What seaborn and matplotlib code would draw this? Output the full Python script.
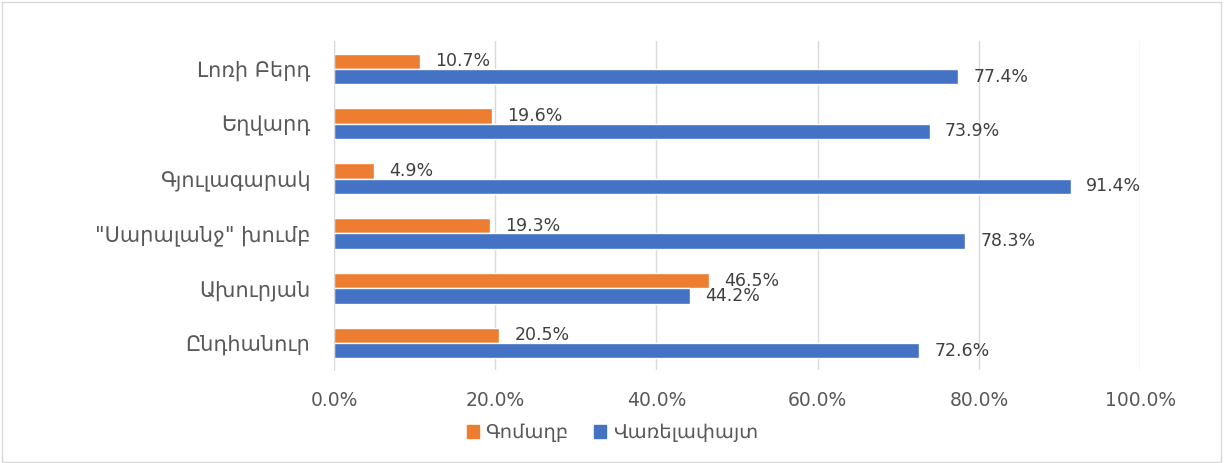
import pandas as pd
import seaborn as sns
import matplotlib.pyplot as plt
from matplotlib.patches import Rectangle
from matplotlib.transforms import offset_copy

categories = ["Լոռի Բերդ", "Եղվարդ", "Գյուլագարակ", "\"Սարալանջ\" խումբ", "Ախուրյան", "Ընդհանուր"]
manure = [10.7, 19.6, 4.9, 19.3, 46.5, 20.5]
firewood = [77.4, 73.9, 91.4, 78.3, 44.2, 72.6]
series = ["Գոմաղբ", "Վառելափայտ"]

df = pd.DataFrame({
    "cat": categories * 2,
    "val": manure + firewood,
    "series": [series[0]] * len(categories) + [series[1]] * len(categories),
})

sns.set_style("white")
plt.rcParams["font.family"] = ["DejaVu Sans"]

fig = plt.figure(figsize=(12.25, 4.63), dpi=100)
ax = fig.add_axes([0.2727, 0.1998, 0.658, 0.7106])

sns.barplot(data=df, y="cat", x="val", hue="series", orient="h",
            palette=["#ED7D31", "#4472C4"], width=0.56, ax=ax,
            saturation=1, legend=False)

# vertical nudge so the close Ախուրյան labels don't collide
for cont, dy in zip(ax.containers, [2, -3]):
    texts = ax.bar_label(cont, labels=[f"{v:.1f}%" for v in cont.datavalues],
                         padding=11, fontsize=12.5, color="#404040")
    for t in texts:
        t.set_transform(offset_copy(t.get_transform(), fig=fig, y=dy, units="points"))

ax.set_xlim(0, 100)
ax.set_xticks([0, 20, 40, 60, 80, 100])
ax.set_xticklabels([f"{t:.1f}%" for t in [0, 20, 40, 60, 80, 100]])
ax.grid(axis="x", color="#D9D9D9", linewidth=1)
ax.set_axisbelow(True)
for s in ["top", "right", "bottom"]:
    ax.spines[s].set_visible(False)
ax.spines["left"].set_color("#D9D9D9")
ax.tick_params(axis="x", length=0, labelsize=13.5, labelcolor="#595959", pad=15)
ax.tick_params(axis="y", length=0, labelsize=15, labelcolor="#595959", pad=17)
ax.set_xlabel("")
ax.set_ylabel("")

handles = [Rectangle((0, 0), 1, 1, color="#ED7D31"), Rectangle((0, 0), 1, 1, color="#4472C4")]
fig.legend(handles, series, loc="center", bbox_to_anchor=(0.5, 0.065), ncol=2,
           frameon=False, fontsize=14, handlelength=0.6, handleheight=0.6,
           handletextpad=0.35, columnspacing=1.3, labelcolor="#595959")

fig.patches.append(Rectangle((0.002, 0.003), 0.995, 0.993, transform=fig.transFigure,
                             fill=False, edgecolor="#D9D9D9", linewidth=1))

fig.savefig("out.png", dpi=100)
